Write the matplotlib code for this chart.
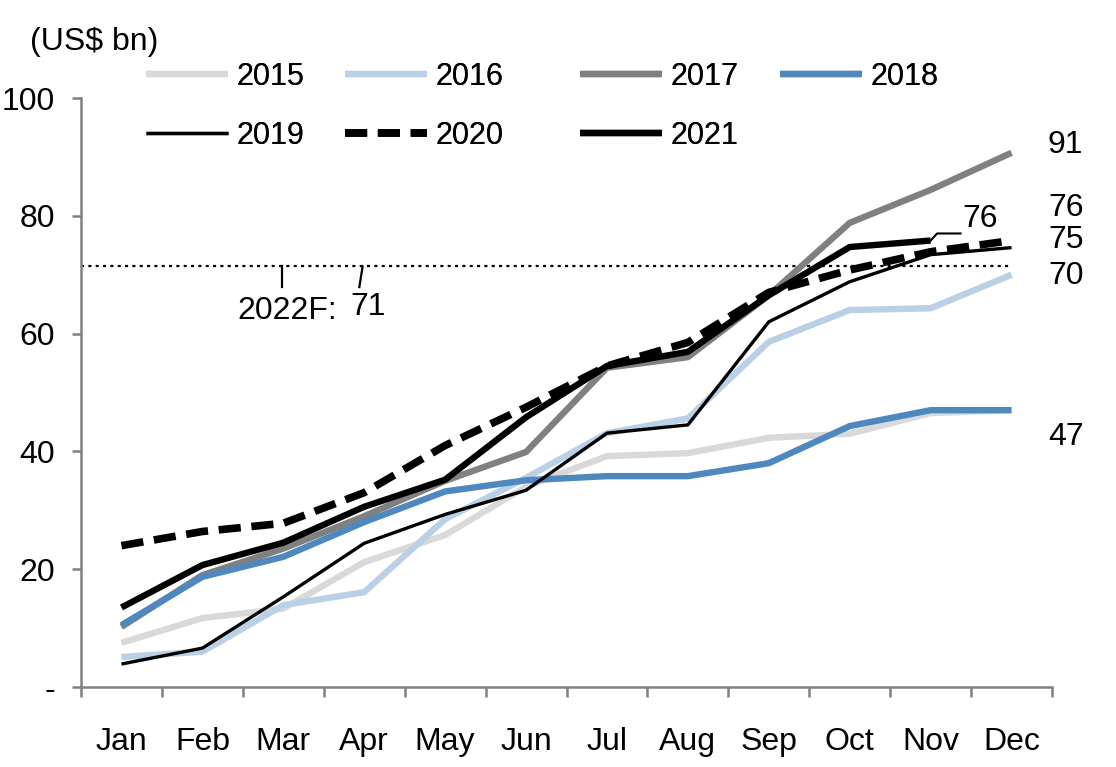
import matplotlib
matplotlib.use("Agg")
import matplotlib.pyplot as plt
import numpy as np

plt.rcParams['font.family'] = ['Liberation Sans', 'DejaVu Sans']

months = ['Jan', 'Feb', 'Mar', 'Apr', 'May', 'Jun', 'Jul', 'Aug', 'Sep', 'Oct', 'Nov', 'Dec']

y2015 = [7.5, 11.7, 13.3, 21.2, 25.8, 34.0, 39.2, 39.7, 42.3, 43.0, 46.5, 47.0]
y2016 = [5.1, 6.0, 13.9, 16.1, 28.5, 35.5, 43.1, 45.6, 58.6, 64.0, 64.3, 70.0]
y2017 = [10.2, 19.0, 23.5, 29.0, 35.0, 39.9, 54.2, 56.0, 66.5, 78.8, 84.4, 90.7]
y2018 = [10.5, 18.7, 22.1, 28.0, 33.2, 35.1, 35.8, 35.8, 38.0, 44.3, 47.0, 47.0]
y2019 = [3.9, 6.6, 15.3, 24.4, 29.3, 33.4, 43.1, 44.5, 62.0, 68.8, 73.4, 74.6]
y2020 = [24.0, 26.4, 27.8, 33.0, 41.0, 47.5, 54.5, 58.5, 67.0, 70.8, 73.9, 75.8]
y2021 = [13.5, 20.7, 24.5, 30.6, 35.2, 45.8, 54.5, 56.9, 66.5, 74.7, 75.8]
forecast_2022 = 71.4

series = [
    ('2015', y2015, '#D9D9D9', 4.6, '-'),
    ('2016', y2016, '#B9D0E6', 4.6, '-'),
    ('2017', y2017, '#808080', 4.6, '-'),
    ('2018', y2018, '#4F88BF', 4.6, '-'),
    ('2019', y2019, 'black', 2.4, '-'),
    ('2020', y2020, 'black', 5.5, (0, (2.9, 1.4))),
    ('2021', y2021, 'black', 4.6, '-'),
]

fs = 23
W, H = 1116, 767

fig = plt.figure(figsize=(11.16, 7.67), dpi=100)
ax = fig.add_axes([81 / W, 80 / H, (1052 - 81) / W, (687 - 98) / H])

x = np.arange(len(months))
lines = []
for name, vals, color, lw, ls in series:
    ln, = ax.plot(x[:len(vals)], vals, color=color, lw=lw, ls=ls, label=name,
                  solid_capstyle='butt', dash_capstyle='butt')
    lines.append(ln)

ax.plot([-0.5, 11], [forecast_2022, forecast_2022], color='black', lw=1.6,
        ls=(0, (1.4, 1.9)), zorder=1)

ax.set_xlim(-0.5, 11.5)
ax.set_ylim(0, 100)
ax.set_yticks([0, 20, 40, 60, 80, 100])
ax.set_yticklabels(['-', '20', '40', '60', '80', '100'])
ax.set_xticks(x)
ax.set_xticklabels(months)
ax.set_xticks(np.arange(-0.5, 12, 1), minor=True)
ax.tick_params(axis='x', which='major', length=0, pad=29, labelsize=fs)
ax.tick_params(axis='x', which='minor', length=7.2, width=1.8, color='#808080', direction='out')
ax.tick_params(axis='y', length=6.5, width=1.8, color='#808080', direction='out', pad=12, labelsize=fs)

for s in ['top', 'right']:
    ax.spines[s].set_visible(False)
for s in ['left', 'bottom']:
    ax.spines[s].set_color('#808080')
    ax.spines[s].set_linewidth(1.8)

# end labels
end_labels = [(y2017, 92.0), (y2020, 81.4), (y2019, 75.9), (y2016, 69.8), (y2018, 42.4)]
for vals, ypos in end_labels:
    ax.text(11.45, ypos, '%d' % round(vals[-1]), fontsize=fs, va='center', ha='left',
            clip_on=False)

# 2021 label with leader
n21 = len(y2021) - 1
ax.plot([n21, n21 + 0.08, n21 + 0.37], [y2021[-1], y2021[-1] + 1.2, y2021[-1] + 1.2],
        color='black', lw=1.5)
ax.text(n21 + 0.39, y2021[-1] + 3.6, '%d' % round(y2021[-1]), fontsize=fs, va='center', ha='left')

# forecast label
ax.plot([1.99, 1.99], [forecast_2022, forecast_2022 - 3.5], color='black', lw=1.6)
ax.plot([2.98, 2.94], [forecast_2022, forecast_2022 - 3.5], color='black', lw=1.6)
ax.text(2.05, forecast_2022 - 7.5, '2022F:', fontsize=fs, va='center', ha='center')
ax.text(3.05, forecast_2022 - 6.8, '%d' % round(forecast_2022), fontsize=fs, va='center', ha='center')

fig.text(30 / W, 1 - 42 / H, '(US$ bn)', fontsize=fs, va='center', ha='left')

# legend: four columns, row-major order
col_x = [146, 345, 580, 780]
for c, cx in enumerate(col_x):
    idx = [i for i in (c, c + 4) if i < len(series)]
    leg = fig.legend([lines[i] for i in idx], [series[i][0] for i in idx],
                     loc='upper left', bbox_to_anchor=(cx / W, 1 - 62 / H), ncol=1,
                     frameon=False, fontsize=22, handlelength=2.68, handletextpad=0.27,
                     labelspacing=0.95, borderpad=0, borderaxespad=0)
    fig.add_artist(leg)

fig.savefig('out.png', dpi=100)
